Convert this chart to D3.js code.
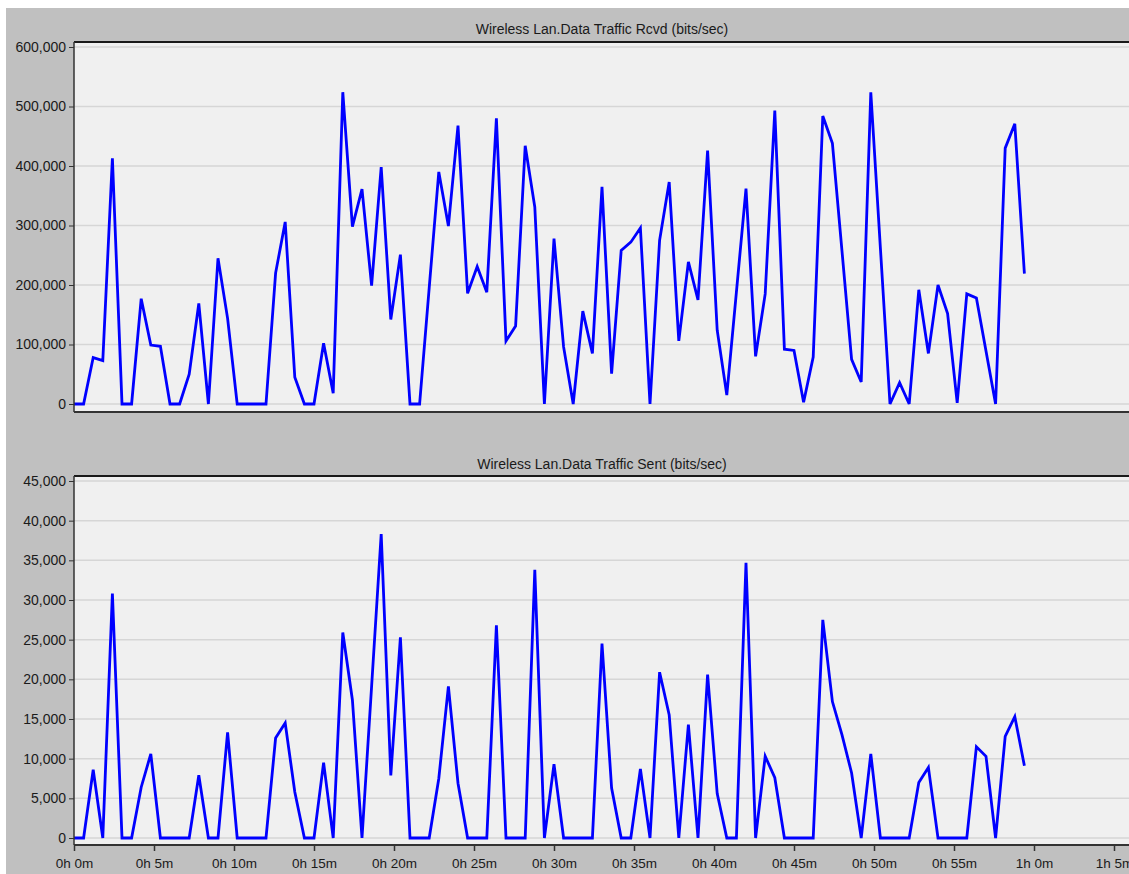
<!DOCTYPE html>
<html>
<head>
<meta charset="utf-8">
<script src="https://cdn.jsdelivr.net/npm/d3@7"></script>
<style>
  html, body { margin: 0; padding: 0; background: #ffffff; }
  svg { display: block; }
  text { font-family: "Liberation Sans", Arial, sans-serif; fill: #1a1a1a; }
</style>
</head>
<body>
<svg id="chart" width="1129" height="874"></svg>
<script>
// ---- data ----
const sampleSeconds = [
  0,36,72,108,144,180,216,252,288,324,
  360,396,432,468,504,540,576,612,648,684,
  720,756,792,828,864,900,936,972,1008,1044,
  1080,1116,1152,1188,1224,1260,1296,1332,1368,1404,
  1440,1476,1512,1548,1584,1620,1656,1692,1728,1764,
  1800,1836,1872,1908,1944,1980,2016,2052,2088,2124,
  2160,2196,2232,2268,2304,2340,2376,2412,2448,2484,
  2520,2556,2592,2628,2664,2700,2736,2772,2808,2844,
  2880,2916,2952,2988,3024,3060,3096,3132,3168,3204,
  3240,3276,3312,3348,3384,3420,3456,3492,3528,3564
];
const rcvdValues = [
  0,0,78000,73000,413000,0,0,177000,99000,97000,
  0,0,50000,169000,0,245000,144000,0,0,0,
  0,220000,306000,45000,0,0,102000,18000,524000,298000,
  361000,199000,398000,142000,251000,0,0,195000,390000,299000,
  468000,186000,231000,188000,480000,106000,131000,434000,331000,0,
  278000,96000,0,156000,85000,365000,51000,258000,272000,296000,
  0,275000,373000,106000,239000,175000,426000,124000,15000,188000,
  362000,80000,185000,493000,92000,90000,3000,79000,484000,438000,
  257000,75000,37000,524000,262000,0,36000,0,192000,85000,
  200000,152000,2000,185000,178000,89000,0,430000,471000,219000
];
const sentValues = [
  0,0,8600,0,30800,0,0,6400,10600,0,
  0,0,0,7900,0,0,13300,0,0,0,
  0,12600,14500,5800,0,0,9500,0,25900,17400,
  0,19100,38300,7900,25300,0,0,0,7500,19100,
  6900,0,0,0,26800,0,0,0,33800,0,
  9300,0,0,0,0,24500,6300,0,0,8700,
  0,20900,15500,0,14300,0,20600,5600,0,0,
  34700,0,10300,7600,0,0,0,0,27500,17200,
  13000,8200,0,10600,0,0,0,0,7000,8900,
  0,0,0,0,11500,10300,0,12800,15300,9100
];
const rcvdTicks = [0,100000,200000,300000,400000,500000,600000];
const sentTicks = [0,5000,10000,15000,20000,25000,30000,35000,40000,45000];
const timeTicks = [0,300,600,900,1200,1500,1800,2100,2400,2700,3000,3300,3600,3900];
const timeTickLabels = ["0h 0m","0h 5m","0h 10m","0h 15m","0h 20m","0h 25m","0h 30m","0h 35m","0h 40m","0h 45m","0h 50m","0h 55m","1h 0m","1h 5m"];
const titles = ["Wireless Lan.Data Traffic Rcvd (bits/sec)", "Wireless Lan.Data Traffic Sent (bits/sec)"];

// ---- drawing ----
const svg = d3.select("#chart");
svg.append("rect").attr("x", 6).attr("y", 8).attr("width", 1123).attr("height", 866).attr("fill", "#c0c0c0");

const plotLeft = 74, plotRight = 1145;
const x = d3.scaleLinear().domain([0, 3600]).range([74, 1034]);

const panels = [
  { title: titles[0], values: rcvdValues, ticks: rcvdTicks, domainMax: 600000,
    top: 42, bottom: 412, yTop: 47, yZero: 404, titleY: 34, xLabels: false },
  { title: titles[1], values: sentValues, ticks: sentTicks, domainMax: 45000,
    top: 476, bottom: 845, yTop: 481, yZero: 838, titleY: 469, xLabels: true }
];

panels.forEach(p => {
  const g = svg.append("g");
  const y = d3.scaleLinear().domain([0, p.domainMax]).range([p.yZero, p.yTop]);

  g.append("rect").attr("x", plotLeft).attr("y", p.top)
    .attr("width", plotRight - plotLeft).attr("height", p.bottom - p.top)
    .attr("fill", "#f0f0f0");

  g.selectAll("line.grid").data(p.ticks).join("line")
    .attr("class", "grid")
    .attr("x1", plotLeft).attr("x2", plotRight)
    .attr("y1", d => y(d)).attr("y2", d => y(d))
    .attr("stroke", "#d6d6d6").attr("stroke-width", 1.5);

  const yAxis = d3.axisLeft(y).tickValues(p.ticks).tickFormat(d3.format(",")).tickSize(5).tickPadding(3);
  const ya = g.append("g").attr("transform", `translate(${plotLeft},0)`).call(yAxis);
  ya.select(".domain").remove();
  ya.selectAll(".tick line").attr("stroke", "#333");
  ya.selectAll(".tick text").attr("font-size", 14).attr("fill", "#1a1a1a")
    .style("font-family", "'Liberation Sans', Arial, sans-serif");

  const line = d3.line().x((d, i) => x(sampleSeconds[i])).y(d => y(d));
  g.append("path").datum(p.values).attr("d", line)
    .attr("fill", "none").attr("stroke", "#0000ff").attr("stroke-width", 2.8)
    .attr("stroke-linejoin", "miter").attr("stroke-miterlimit", 4);

  g.append("line").attr("x1", plotLeft).attr("x2", plotRight).attr("y1", p.top).attr("y2", p.top)
    .attr("stroke", "#1a1a1a").attr("stroke-width", 2);
  g.append("line").attr("x1", plotLeft).attr("x2", plotRight).attr("y1", p.bottom).attr("y2", p.bottom)
    .attr("stroke", "#333").attr("stroke-width", 2);
  g.append("line").attr("x1", plotLeft).attr("x2", plotLeft).attr("y1", p.top).attr("y2", p.bottom)
    .attr("stroke", "#333").attr("stroke-width", 1.5);

  g.append("text").attr("x", 602).attr("y", p.titleY).attr("text-anchor", "middle")
    .attr("font-size", 14).text(p.title);

  if (p.xLabels) {
    const xAxis = d3.axisBottom(x).tickValues(timeTicks)
      .tickFormat((d, i) => timeTickLabels[i]).tickSize(6).tickPadding(7);
    const xa = g.append("g").attr("transform", `translate(0,${p.bottom})`).call(xAxis);
    xa.select(".domain").remove();
    xa.selectAll(".tick line").attr("stroke", "#333").attr("stroke-width", 1.5);
    xa.selectAll(".tick text").attr("font-size", 13.5).attr("fill", "#1a1a1a")
      .style("font-family", "'Liberation Sans', Arial, sans-serif");
  }
});
</script>
</body>
</html>
